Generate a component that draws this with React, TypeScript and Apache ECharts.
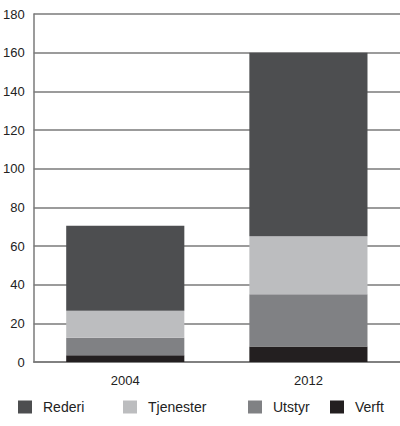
import React, { useRef, useEffect } from 'react';
import * as echarts from 'echarts';

const years = ['2004', '2012'];
const verft = [3.5, 8];
const utstyr = [9, 27];
const tjenester = [14, 30];
const rederi = [44, 95];

const legendNames = ['Rederi', 'Tjenester', 'Utstyr', 'Verft'];
const legendLefts = [18, 123, 248, 330];

const App = () => {
  const chartRef = useRef(null);

  useEffect(() => {
    document.body.style.margin = '0';
    const chart = echarts.init(chartRef.current, null, { renderer: 'svg' });
    const font = 'Liberation Sans, Arial, sans-serif';

    const bar = (name: string, data: number[], color: string) => ({
      name,
      type: 'bar',
      stack: 'total',
      barWidth: '64.5%',
      data,
      itemStyle: { color },
    });

    chart.setOption({
      animation: false,
      grid: { left: 31, right: 0, top: 14, bottom: 64 },
      legend: legendNames.map((name, i) => ({
        left: legendLefts[i],
        top: 400,
        itemWidth: 14,
        itemHeight: 13,
        icon: 'rect',
        selectedMode: false,
        padding: 0,
        textStyle: { fontFamily: font, fontSize: 14, color: '#222', padding: [0, 0, 0, 6] },
        data: [name],
      })),
      xAxis: {
        type: 'category',
        data: years,
        axisLine: { lineStyle: { color: '#7a7a7a', width: 1.5 } },
        axisTick: { show: false },
        axisLabel: { fontFamily: font, fontSize: 13, color: '#222', margin: 12 },
      },
      yAxis: {
        type: 'value',
        min: 0,
        max: 180,
        interval: 20,
        axisLine: { show: true, lineStyle: { color: '#7a7a7a', width: 1.5 } },
        axisTick: { show: false },
        axisLabel: { fontFamily: font, fontSize: 13, color: '#222', margin: 9 },
        splitLine: { lineStyle: { color: '#7a7a7a', width: 1.5 } },
      },
      series: [
        bar('Verft', verft, '#231f20'),
        bar('Utstyr', utstyr, '#808184'),
        bar('Tjenester', tjenester, '#bcbdbf'),
        bar('Rederi', rederi, '#4d4e50'),
      ],
    });

    return () => {
      chart.dispose();
    };
  }, []);

  return <div ref={chartRef} style={{ width: '400px', height: '426px' }} />;
};

export default App;
